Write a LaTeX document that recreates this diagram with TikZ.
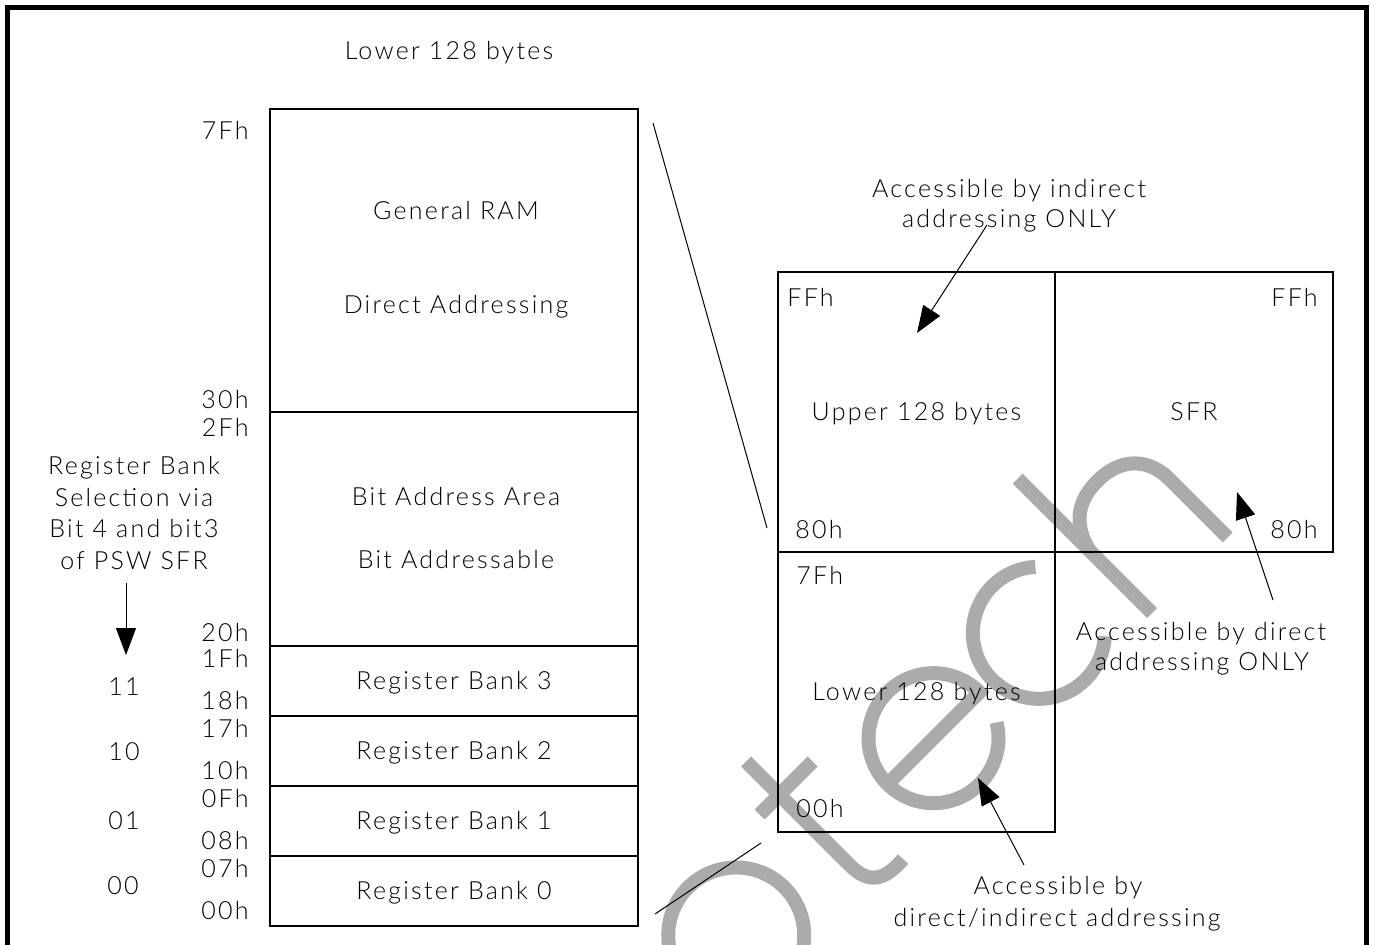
\documentclass[tikz,border=0pt]{standalone}
\usepackage{fontspec}
\setmainfont{Lato}[UprightFont={* Light}, LetterSpace=9]
\usetikzlibrary{arrows.meta}

\definecolor{wmgray}{RGB}{171,171,171}

\begin{document}
\begin{tikzpicture}[
    x=0.5pt, y=-0.5pt,
    lbl/.style={font=\fontsize{12.5}{15}\selectfont, inner sep=0pt, anchor=base},
    lble/.style={lbl, anchor=base east},
    lblw/.style={lbl, anchor=base west},
    block/.style={draw, line width=0.7pt, inner sep=0pt, minimum width=#1,
                  font=\fontsize{12.5}{15}\selectfont, text height=8.96pt, text depth=0pt},
    zoomline/.style={line width=0.5pt},
    callout/.style={line width=0.5pt, -{Triangle[length=13.5pt,width=10pt]}},
    frameline/.style={line width=2.5pt, line join=miter},
    wm/.style={draw=wmgray, line width=7pt, line cap=butt}
  ]
  \useasboundingbox (0,0) rectangle (1375,944);
  \clip (0,0) rectangle (1375,944);

  % outer frame, open at the bottom
  \draw[frameline] (7,960) -- (7,7) -- (1366,7) -- (1366,960);

  % background lettering
  \begin{scope}[shift={(1152,613)}, x={(0.35355pt,0.35355pt)}, y={(-0.35355pt,0.35355pt)}]
    \draw[wm] (-522,66) circle[radius=68];
    \draw[wm] (-392,182) -- (-392,35) .. controls (-392,8) and (-378,0) .. (-350,2);
    \draw[wm] (-420,135) -- (-345,135);
    \draw[wm] (-308,66) -- (-178,66) arc[start angle=0, end angle=329, radius=65];
    \draw[wm] (-94,66) ++(48:66) arc[start angle=48, end angle=312, radius=66];
    \draw[wm] (0,190) -- (0,0);
    \draw[wm] (0,88) .. controls (8,122) and (30,132) .. (55,132)
              .. controls (88,132) and (107,112) .. (107,82) -- (107,0);
  \end{scope}

  % lower 128 bytes, expanded
  \node[lbl] (title) at (449,59) {Lower 128 bytes};

  \node[block=184pt, minimum height=151.5pt] (gen) at (454,260.5) {};
  \node[block=184pt, minimum height=117pt]   (bit) at (454,529) {};
  \node[block=184pt, minimum height=35pt] (rb3) at (454,681) {Register Bank 3};
  \node[block=184pt, minimum height=35pt] (rb2) at (454,751) {Register Bank 2};
  \node[block=184pt, minimum height=35pt] (rb1) at (454,821) {Register Bank 1};
  \node[block=184pt, minimum height=35pt] (rb0) at (454,891) {Register Bank 0};

  \node[lbl] (genA) at (456,219) {General RAM};
  \node[lbl] (genB) at (456,313) {Direct Addressing};
  \node[lbl] (bitA) at (456,505) {Bit Address Area};
  \node[lbl] (bitB) at (456,568) {Bit Addressable};

  % address boundaries
  \node[lble] (a7F) at (249,139) {7Fh};
  \node[lble] (a30) at (249,408) {30h};
  \node[lble] (a2F) at (249,436) {2Fh};
  \node[lble] (a20) at (249,641) {20h};
  \node[lble] (a1F) at (249,667) {1Fh};
  \node[lble] (a18) at (249,709) {18h};
  \node[lble] (a17) at (249,737) {17h};
  \node[lble] (a10) at (249,779) {10h};
  \node[lble] (a0F) at (249,807) {0Fh};
  \node[lble] (a08) at (249,849) {08h};
  \node[lble] (a07) at (249,877) {07h};
  \node[lble] (a00) at (249,919) {00h};

  % bank selection note
  \node[lbl] (selA) at (134,474) {Register Bank};
  \node[lbl] (selB) at (134,506) {Selection via};
  \node[lbl] (selC) at (134,537) {Bit 4 and bit3};
  \node[lbl] (selD) at (134,569) {of PSW SFR};
  \coordinate (selS) at (126,583);
  \coordinate (selT) at (126,655);
  \draw[callout] (selS) -- (selT);

  \node[lbl] (b11) at (124,695) {11};
  \node[lbl] (b10) at (124,760) {10};
  \node[lbl] (b01) at (124,829) {01};
  \node[lbl] (b00) at (123,894) {00};

  % full internal RAM map
  \node[block=138.5pt, minimum height=140pt] (upper) at (916.5,412) {Upper 128 bytes};
  \node[block=139pt,   minimum height=140pt] (sfr)   at (1194,412)  {SFR};
  \node[block=138.5pt, minimum height=140pt] (lower) at (916.5,692) {Lower 128 bytes};

  \node[lblw] (uFF) at (787,306)  {FFh};
  \node[lble] (sFF) at (1318,306) {FFh};
  \node[lblw] (u80) at (795,538)  {80h};
  \node[lble] (s80) at (1318,538) {80h};
  \node[lblw] (l7F) at (796,584)  {7Fh};
  \node[lblw] (l00) at (796,817)  {00h};

  % zoom lines
  \coordinate (zA1) at (653,123);
  \coordinate (zA2) at (767,528);
  \coordinate (zB1) at (655,914);
  \coordinate (zB2) at (761,843);
  \draw[zoomline] (zA1) -- (zA2);
  \draw[zoomline] (zB1) -- (zB2);

  % access notes
  \node[lbl] (nIa) at (1009,197) {Accessible by indirect};
  \node[lbl] (nIb) at (1009,227) {addressing ONLY};
  \coordinate (nIs) at (987,225);
  \coordinate (nIt) at (917,333);
  \draw[callout] (nIs) -- (nIt);

  \node[lbl] (nDa) at (1201,640) {Accessible by direct};
  \node[lbl] (nDb) at (1202,670) {addressing ONLY};
  \coordinate (nDs) at (1273,600);
  \coordinate (nDt) at (1237,492);
  \draw[callout] (nDs) -- (nDt);

  \node[lbl] (nBa) at (1058,894) {Accessible by};
  \node[lbl] (nBb) at (1057,926) {direct/indirect addressing};
  \coordinate (nBs) at (1024,865);
  \coordinate (nBt) at (978,778);
  \draw[callout] (nBs) -- (nBt);
\end{tikzpicture}
\end{document}
